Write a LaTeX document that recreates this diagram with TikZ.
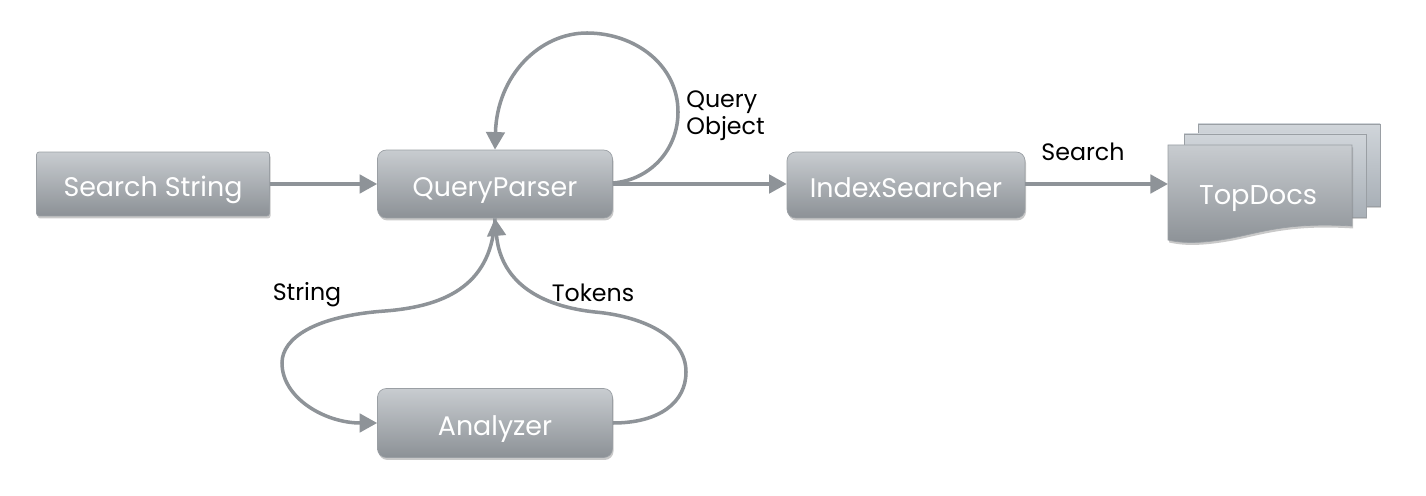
\documentclass[tikz,border=0pt]{standalone}
\usepackage{fontspec}
\setmainfont{Poppins}
\usetikzlibrary{shadows,arrows.meta}
\definecolor{boxtop}{HTML}{C8CCD0}
\definecolor{boxbot}{HTML}{8C9196}
\definecolor{boxedge}{HTML}{9A9FA4}
\definecolor{conncol}{HTML}{8E9398}
\definecolor{backtop}{HTML}{D0D5DA}
\definecolor{backbot}{HTML}{A9B0B7}
\tikzset{
  procbox/.style={rounded corners=5pt, top color=boxtop, bottom color=boxbot, draw=boxedge, line width=0.4pt,
    text=white, font=\fontsize{15.3}{18}\selectfont, inner sep=0pt, text height=14.5pt, text depth=0pt,
    drop shadow={shadow xshift=0.6pt, shadow yshift=-1.4pt, opacity=0.35, fill=black!60}},
  conn/.style={draw=conncol, line width=2pt, -{Triangle[length=10pt,width=10.5pt]}},
  lbl/.style={font=\fontsize{13.5}{15.5}\selectfont, text=black, inner sep=0pt},
}
\begin{document}
\begin{tikzpicture}[x=0.02cm,y=-0.02cm]
\useasboundingbox[fill=white] (0,0) rectangle (1426,496);
% nodes
\node[procbox, rounded corners=1.5pt, minimum width=4.66cm, minimum height=1.28cm] (ss) at (153,184) {Search String};
\node[procbox, minimum width=4.7cm, minimum height=1.36cm] (qp) at (495,184) {QueryParser};
\node[procbox, minimum width=4.76cm, minimum height=1.32cm] (is) at (906,185) {IndexSearcher};
\node[procbox, minimum width=4.7cm, minimum height=1.38cm] (an) at (495,423) {Analyzer};
% TopDocs stack
\draw[draw=boxedge, line width=0.4pt, top color=backtop, bottom color=backbot,
  drop shadow={shadow xshift=0.6pt, shadow yshift=-1.2pt, opacity=0.3, fill=black!60}]
  (1198,124) rectangle (1380,206);
\draw[draw=boxedge, line width=0.4pt, top color=backtop, bottom color=backbot,
  drop shadow={shadow xshift=0.6pt, shadow yshift=-1.2pt, opacity=0.3, fill=black!60}]
  (1184,134) rectangle (1366,217);
\draw[draw=boxedge, line width=0.4pt, top color=boxtop, bottom color=boxbot,
  drop shadow={shadow xshift=0.6pt, shadow yshift=-1.4pt, opacity=0.35, fill=black!60}]
  (1168,145) -- (1352,145) -- (1352,226)
  .. controls (1290,222) and (1262,232) .. (1232,238)
  .. controls (1205,243) and (1185,244) .. (1168,240) -- cycle;
\node[text=white, font=\fontsize{15.5}{18}\selectfont, inner sep=0pt, anchor=base] (td) at (1258,205) {TopDocs};
\coordinate (tdin) at (1168,184);
% straight connectors
\draw[conn] (ss.east) -- (qp.west);
\draw[conn] (qp.east |- 0,184) -- (is.west |- 0,184);
\draw[conn] (is.east |- 0,184) -- (tdin);
% self loop
\draw[conn] (qp.east |- 0,183) .. controls (650,180) and (678,150) .. (678,112)
  .. controls (678,65) and (635,33) .. (587,33)
  .. controls (540,33) and (497,75) .. (qp.north);
% analyzer loop
\draw[conn] (qp.south) .. controls (492,282) and (450,306) .. (385,311)
  .. controls (315,316) and (282,338) .. (282,363)
  .. controls (282,398) and (325,423) .. (an.west);
\draw[conn] (an.east) .. controls (660,423) and (686,402) .. (686,372)
  .. controls (686,335) and (640,316) .. (595,312)
  .. controls (530,305) and (500,275) .. (qp.south);
% labels
\node[lbl, align=left, anchor=west] (qo) at (686,116) {Query\\Object};
\node[lbl] (srch) at (1083,152) {Search};
\node[lbl] (str) at (307,295) {String};
\node[lbl] (tok) at (593,293) {Tokens};
\end{tikzpicture}
\end{document}
